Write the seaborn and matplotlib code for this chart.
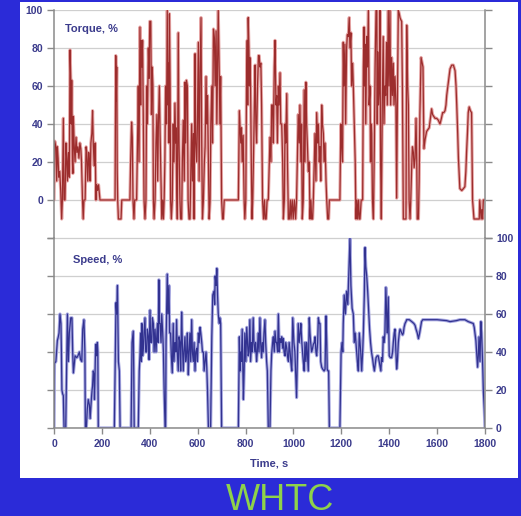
import matplotlib
matplotlib.use("Agg")
import matplotlib.pyplot as plt
from matplotlib.patches import Rectangle
import seaborn as sns
import pandas as pd

# ---------------- data ----------------
torque_t = [0, 3, 8, 11, 14, 17, 20, 24, 28, 32, 35, 39, 42, 46, 50, 53, 56, 60, 64, 67, 70, 72, 74, 77, 79, 81, 84, 88, 92, 96,
            100, 104, 108, 112, 115, 119, 122, 125, 130, 134, 137, 141, 145, 148, 151, 154, 158, 161, 164, 168, 172, 175, 178,
            182, 186, 190, 192, 255, 258, 260, 262, 264, 266, 269, 280, 283, 317, 320, 324, 327, 330, 334, 337, 345, 350, 352,
            355, 359, 362, 364, 367, 370, 373, 376, 380, 384, 387, 390, 394, 397, 400, 404, 407, 410, 413, 415, 418, 422, 426,
            430, 433, 436, 440, 443, 447, 450, 454, 457, 460, 463, 466, 470, 473, 476, 478, 480, 482, 485, 487, 490, 494, 498,
            501, 505, 508, 510, 512, 515, 519, 522, 526, 529, 533, 536, 540, 544, 547, 550, 553, 557, 560, 564, 568, 572, 575,
            578, 582, 585, 589, 592, 596, 599, 603, 606, 610, 614, 617, 620, 624, 628, 631, 635, 638, 641, 645, 648, 652, 655,
            659, 662, 666, 670, 673, 677, 680, 683, 686, 690, 693, 696, 699, 700, 704, 707, 711, 770, 774, 777, 780, 783, 786,
            790, 794, 797, 801, 804, 807, 809, 811, 814, 816, 818, 821, 824, 827, 830, 834, 837, 840, 843, 846, 850, 854, 857,
            860, 864, 867, 871, 875, 879, 882, 886, 890, 895, 899, 902, 906, 909, 913, 916, 920, 923, 927, 930, 933, 937, 940,
            944, 947, 951, 955, 958, 962, 965, 968, 972, 975, 979, 983, 987, 990, 995, 999, 1004, 1009, 1013, 1016, 1020, 1024,
            1027, 1031, 1034, 1037, 1041, 1045, 1048, 1052, 1055, 1058, 1062, 1066, 1069, 1073, 1076, 1080, 1083, 1087, 1090,
            1094, 1097, 1101, 1104, 1108, 1111, 1114, 1118, 1121, 1125, 1128, 1132, 1136, 1139, 1143, 1147, 1150, 1194, 1198,
            1201, 1205, 1208, 1211, 1215, 1218, 1222, 1225, 1229, 1233, 1236, 1240, 1243, 1247, 1250, 1254, 1258, 1261, 1265,
            1268, 1272, 1275, 1278, 1283, 1289, 1292, 1295, 1297, 1299, 1302, 1306, 1309, 1313, 1316, 1320, 1322, 1325, 1327,
            1330, 1334, 1338, 1341, 1345, 1348, 1350, 1352, 1355, 1359, 1361, 1364, 1367, 1371, 1375, 1378, 1382, 1385, 1389,
            1392, 1396, 1399, 1403, 1406, 1410, 1413, 1417, 1420, 1424, 1428, 1431, 1434, 1438, 1442, 1445, 1448, 1452, 1455,
            1459, 1466, 1470, 1473, 1477, 1480, 1483, 1487, 1490, 1494, 1497, 1501, 1504, 1508, 1512, 1515, 1517, 1522, 1525,
            1528, 1533, 1538, 1541, 1545, 1550, 1556, 1561, 1567, 1572, 1577, 1581, 1586, 1591, 1598, 1605, 1612, 1618, 1623,
            1628, 1633, 1637, 1640, 1647, 1654, 1661, 1668, 1675, 1679, 1682, 1686, 1689, 1695, 1703, 1710, 1716, 1720, 1723,
            1727, 1730, 1734, 1739, 1744, 1746, 1748, 1754, 1776, 1778, 1781, 1784, 1787, 1790, 1793, 1800]
torque_v = [0, 31, 28, 10, 28, 22, 12, 15, 5, -10, 0, 43, 0, 0, 30, 22, 10, 25, 12, 79, 64, 40, 63, 20, 14, 44, 30, 20, 33, 25,
            28, 22, 30, 27, 20, 0, -10, 0, 0, 28, 25, 10, 25, 20, 10, 30, 35, 47, 30, 18, 30, 0, 8,
            5, 8, 3, 0, 0, 76, 52, 70, 15, 0, -10, -10, 0, 0, 20, 41, 33, 0, -10, 0, 0, 40, 60,
            20, 91, 50, 84, 70, 84, 40, 0, -10, 0, 60, 40, 80, 64, 94, 94, 45, 70, 60, 0, -10, 0, 30,
            45, 10, 40, 60, 35, 10, -10, 0, -10, 0, 20, 60, 40, 100, 50, 72, 30, 98, 60, 0, -10, 0, 40,
            20, 51, 30, 38, 10, -10, 88, 30, 0, -10, -10, 20, 42, 10, 62, 30, 63, 60, 0, -10, -10, 20, 40,
            10, 35, -10, 77, 30, 20, 40, 83, 10, 68, 96, 30, -10, 0, 20, 28, 65, 40, 55, 20, -10, 0, 40,
            60, 30, 90, 85, 60, 89, 40, 70, 100, 68, 40, 65, 20, 0, -10, -10, 0, 0, 47, 38, 30, 38, 20,
            34, 0, -10, 0, 60, 84, 50, 96, 80, 60, 75, 60, 20, -10, 0, 30, 50, 71, 40, 30, 60, 76, 76,
            70, 72, 50, 0, -10, 0, -10, -10, 0, 0, 20, 33, 20, 50, 50, 30, 70, 84, 50, 55, 30, 60, 50,
            67, 40, 40, 20, -10, 0, 40, 30, 56, 20, -10, -10, 0, -10, 0, -10, 0, -10, 0, 20, 45, 30,
            50, 20, 40, -10, 0, 58, 20, 62, 40, 30, 15, 20, -10, 0, -10, -10, 0, 20, 35,
            10, 46, 30, 40, 20, 28, 10, 50, 40, 35, 20, 30, 10, 0, -10, -10, 0, 0, 40,
            30, 20, 83, 60, 82, 40, 80, 87, 86, 96, 80, 88, 60, 72, 60, 40, 20, -10, 0,
            -10, 0, -10, -10, 0, 0, 70, 91, 60, 82, 40, 86, 70, 100, 50, 60, 20, 40, 35,
            0, -10, 30, 70, 100, 100, 40, 78, 50, 60, 100, 20, -10, 50, 86, 40, 60, 55, 83,
            50, 100, 60, 100, 50, 75, 55, 72, 50, 65, 50, 1, 50, 100, 98, 96, 95, 94, 60,
            -10, -10, -10, 92, 60, 50, 0, -10, 0, 18, 28, 25, 17, 22, 43, 20, -10, -10, 10,
            45, 75, 72, 70, 27, 32, 36, 37, 38, 43, 48, 45, 44, 43, 43, 42, 40, 43, 46,
            46, 47, 50, 55, 62, 69, 71, 71, 68, 60, 50, 35, 22, 6, 5, 6, 7, 15, 25,
            36, 46, 49, 47, 46, 20, 0, -10, -10, 0, -5, -10, -5, -10, 0, 0]

speed_t = [0, 2, 8, 14, 18, 21, 25, 29, 31, 33, 36, 39, 42, 49, 56, 60, 64, 70, 75, 78, 81, 88, 95, 100, 106, 111, 116, 120,
           125, 129, 131, 135, 139, 143, 148, 151, 156, 159, 161, 164, 167, 169, 174, 178, 181, 183, 185, 252, 256, 259, 262,
           265, 269, 273, 276, 322, 326, 331, 333, 335, 352, 356, 359, 362, 365, 367, 370, 373, 376, 380, 383, 387, 390, 394,
           397, 401, 404, 408, 411, 415, 418, 422, 426, 429, 432, 435, 438, 441, 443, 447, 450, 454, 457, 460, 464, 466, 468,
           473, 476, 480, 483, 487, 490, 494, 498, 501, 505, 509, 512, 515, 519, 522, 526, 529, 533, 536, 540, 543, 547, 550,
           554, 557, 561, 564, 568, 571, 575, 578, 582, 585, 589, 592, 596, 599, 603, 606, 610, 613, 617, 620, 624, 627, 631,
           635, 638, 641, 645, 654, 659, 663, 668, 671, 673, 677, 680, 683, 686, 690, 693, 696, 700, 770, 774, 777, 780, 783,
           786, 789, 791, 794, 797, 801, 805, 808, 811, 814, 818, 821, 825, 828, 832, 835, 839, 842, 846, 849, 853, 856, 860,
           863, 867, 870, 874, 877, 881, 884, 888, 891, 895, 902, 906, 909, 913, 916, 920, 923, 927, 930, 934, 937, 941, 944,
           948, 951, 955, 958, 961, 965, 968, 972, 975, 979, 982, 986, 989, 993, 997, 1000, 1002, 1006, 1009, 1013, 1016,
           1020, 1024, 1028, 1031, 1035, 1038, 1041, 1045, 1048, 1052, 1055, 1058, 1062, 1066, 1069, 1072, 1076, 1080, 1083,
           1087, 1090, 1094, 1097, 1101, 1104, 1108, 1111, 1114, 1118, 1122, 1128, 1132, 1136, 1139, 1141, 1144, 1147, 1150,
           1194, 1199, 1203, 1206, 1208, 1212, 1217, 1222, 1227, 1231, 1236, 1240, 1245, 1250, 1254, 1258, 1261, 1264, 1267,
           1271, 1275, 1278, 1281, 1285, 1289, 1292, 1296, 1299, 1302, 1306, 1310, 1315, 1318, 1322, 1326, 1331, 1334, 1338,
           1342, 1345, 1350, 1354, 1358, 1361, 1365, 1368, 1372, 1375, 1379, 1382, 1386, 1389, 1392, 1396, 1400, 1405, 1410,
           1414, 1417, 1421, 1424, 1428, 1431, 1434, 1438, 1442, 1445, 1449, 1452, 1456, 1459, 1462, 1466, 1470, 1473, 1484,
           1494, 1503, 1508, 1512, 1517, 1522, 1527, 1531, 1535, 1540, 1556, 1600, 1640, 1654, 1680, 1695, 1716, 1730, 1751,
           1755, 1758, 1762, 1765, 1769, 1772, 1775, 1777, 1779, 1781, 1783, 1786, 1789, 1791, 1793, 1797, 1800]
speed_v = [0, 34, 35, 46, 48, 50, 60, 55, 40, 20, 18, 17, 0, 0, 60, 35, 50, 58, 58, 40, 29, 38, 37, 38, 40, 36, 35, 52,
           57, 40, 0, 0, 10, 15, 12, 5, 15, 20, 22, 30, 28, 15, 44, 38, 45, 40, 0, 0, 40, 66, 60,
           75, 35, 30, 0, 0, 45, 51, 30, 0, 0, 30, 38, 50, 35, 55, 38, 42, 50, 58, 40, 40, 52, 48,
           36, 62, 45, 45, 58, 55, 40, 52, 40, 48, 55, 45, 78, 55, 55, 45, 60, 50, 40, 20, 0, 0, 45,
           81, 60, 75, 50, 50, 38, 29, 55, 35, 45, 40, 57, 40, 30, 48, 45, 30, 61, 45, 30, 40, 48, 35,
           40, 50, 28, 40, 50, 35, 57, 40, 35, 45, 30, 40, 42, 35, 50, 45, 53, 50, 45, 40, 40, 30, 35,
           40, 32, 20, 0, 0, 48, 70, 72, 65, 80, 75, 84, 70, 60, 55, 58, 55, 0, 0, 48, 30, 40, 35,
           52, 30, 15, 30, 50, 35, 53, 45, 38, 40, 57, 35, 45, 40, 58, 45, 40, 45, 35, 40, 50, 40, 58,
           45, 37, 45, 40, 50, 57, 45, 35, 30, 0, 0, 30, 39, 45, 48, 40, 51, 45, 45, 40, 60, 40, 47,
           45, 48, 42, 47, 40, 38, 45, 42, 38, 35, 45, 40, 35, 30, 58, 50, 45, 40, 30, 16, 35,
           55, 45, 50, 55, 45, 40, 35, 30, 45, 35, 45, 40, 30, 58, 50, 45, 40, 42, 44,
           45, 48, 40, 38, 45, 58, 55, 55, 35, 32, 31, 30, 31, 59, 45, 31, 30, 30, 0,
           0, 40, 45, 40, 55, 70, 60, 72, 65, 80, 100, 75, 63, 60, 45, 50, 45, 40, 35,
           30, 50, 45, 40, 30, 40, 50, 70, 95, 85, 80, 72, 60, 52, 45, 40, 36, 33, 30,
           34, 37, 38, 38, 35, 33, 30, 37, 35, 48, 45, 50, 74, 60, 50, 69, 38, 37, 37,
           40, 45, 50, 52, 40, 31, 35, 45, 50, 52, 51, 50, 49, 50, 53, 55, 56, 57, 57,
           56, 55, 54, 52, 50, 47, 50, 53, 56, 57, 57, 57, 56.5, 56, 56.5, 57, 57, 56, 55,
           53, 50, 46, 40, 32, 38, 48, 42, 35, 45, 56, 50, 38, 30, 20, 10, 0]

x_ticks = [0, 200, 400, 600, 800, 1000, 1200, 1400, 1600, 1800]
y_ticks = [0, 20, 40, 60, 80, 100]

torque_df = pd.DataFrame({"t": torque_t, "v": torque_v})
speed_df = pd.DataFrame({"t": speed_t, "v": speed_v})

# ---------------- styling ----------------
sns.set_style("white")
plt.rcParams["font.family"] = ["Liberation Sans", "DejaVu Sans"]

BG = "#2b2bd8"
LABEL_C = "#3b3b8c"
GRID_C = "#cfcfcf"
SPINE_C = "#8a8a8a"

W, H = 521, 516
fig = plt.figure(figsize=(W / 100, H / 100), dpi=100, facecolor=BG)
fig.add_artist(Rectangle((20 / W, 1 - 478 / H), 498 / W, 476 / H, transform=fig.transFigure,
                         facecolor="white", edgecolor="none", zorder=-5))

x0, x1 = 54, 485
ax1 = fig.add_axes([x0 / W, 1 - 238 / H, (x1 - x0) / W, 228 / H])
ax2 = fig.add_axes([x0 / W, 1 - 428 / H, (x1 - x0) / W, 190 / H])

for ax in (ax1, ax2):
    ax.set_facecolor("none")
    ax.set_xlim(0, 1800)
    ax.grid(axis="y", color=GRID_C, lw=0.9)
    ax.grid(axis="x", visible=False)
    ax.set_axisbelow(True)
    for s in ("left", "right", "bottom"):
        ax.spines[s].set_color(SPINE_C)
        ax.spines[s].set_linewidth(1.1)
    ax.spines["top"].set_visible(False)

# torque panel
sns.lineplot(data=torque_df, x="t", y="v", ax=ax1, color="#e6a6a6", linewidth=2.3,
             estimator=None, sort=False)
sns.lineplot(data=torque_df, x="t", y="v", ax=ax1, color="#8a0f0f", linewidth=0.9, alpha=0.8,
             estimator=None, sort=False)
ax1.set_ylim(-20, 100)
ax1.set_yticks([-20] + y_ticks)
ax1.set_yticklabels([""] + [str(v) for v in y_ticks])
ax1.spines["bottom"].set_visible(False)
ax1.set_xticks([])
ax1.tick_params(axis="y", left=True, right=True, labelleft=True, labelright=False,
                direction="out", length=5, width=1, color=SPINE_C, pad=3,
                labelsize=7.5, labelcolor=LABEL_C)
for lab in ax1.get_yticklabels():
    lab.set_fontweight("bold")
ax1.set_xlabel("")
ax1.set_ylabel("")
ax1.text(0.026, 0.917, "Torque, %", transform=ax1.transAxes, ha="left", va="center",
         fontsize=8, fontweight="bold", color=LABEL_C)

# speed panel
sns.lineplot(data=speed_df, x="t", y="v", ax=ax2, color="#a6a7e0", linewidth=2.3,
             estimator=None, sort=False)
sns.lineplot(data=speed_df, x="t", y="v", ax=ax2, color="#15157c", linewidth=0.9, alpha=0.8,
             estimator=None, sort=False)
ax2.set_ylim(0, 100)
ax2.set_yticks(y_ticks)
ax2.set_yticklabels([str(v) for v in y_ticks])
ax2.set_xticks(x_ticks)
ax2.set_xticklabels([str(v) for v in x_ticks])
ax2.tick_params(axis="y", left=True, right=True, labelleft=False, labelright=True,
                direction="out", length=5, width=1, color=SPINE_C, pad=3,
                labelsize=7.5, labelcolor=LABEL_C)
ax2.tick_params(axis="x", bottom=True, direction="out", length=4, width=1, color=SPINE_C,
                pad=4, labelsize=7.5, labelcolor=LABEL_C)
for lab in ax2.get_yticklabels() + ax2.get_xticklabels():
    lab.set_fontweight("bold")
ax2.set_ylabel("")
ax2.set_xlabel("Time, s", fontsize=8, fontweight="bold", color=LABEL_C, labelpad=7)
ax2.text(0.044, 0.884, "Speed, %", transform=ax2.transAxes, ha="left", va="center",
         fontsize=8, fontweight="bold", color=LABEL_C)

fig.text(280 / W, 1 - 500 / H, "WHTC", ha="center", va="center", fontsize=26,
         color="#8fd24a", fontfamily=["Liberation Sans", "DejaVu Sans"])

fig.savefig("out.png", dpi=100, facecolor=BG)
